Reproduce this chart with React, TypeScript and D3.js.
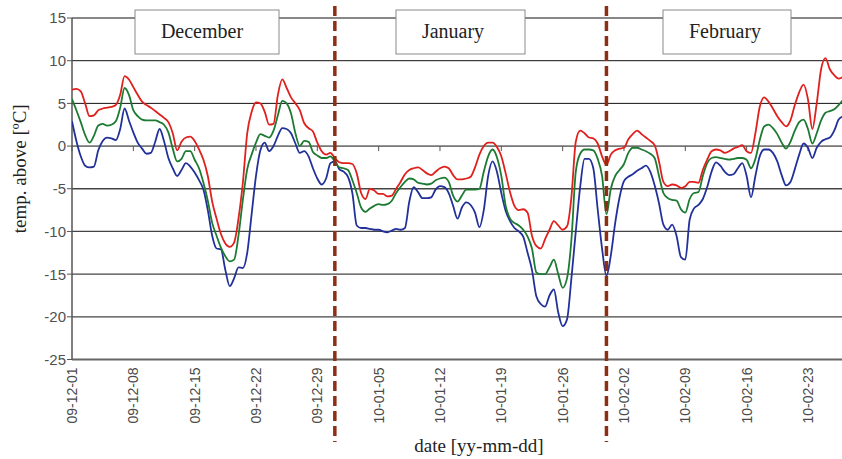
import * as d3 from 'd3';

// half-day samples starting 2009-12-01 00:00
const startDate = new Date(2009, 11, 1);
const stepHours = 12;

const maxTemp = [
  6.6, 6.7, 6.4, 5.0, 3.5, 3.6, 4.2, 4.4, 4.5, 4.6,
  4.8, 6.0, 8.2, 7.8, 6.9, 6.0, 5.2, 4.8, 4.5, 4.1,
  3.7, 3.3, 2.8, 1.5, -0.5, 0.5, 1.0, 1.1, 0.6, -0.4,
  -1.6, -3.5, -6.5, -8.5, -10.3, -11.4, -11.8, -11.3, -8.5, -4.3,
  1.5, 4.0, 5.1, 5.0, 4.0, 2.5, 2.6, 6.0, 7.8, 6.8,
  5.7, 5.0, 4.2, 2.7, 2.1, 1.7, 0.4, -0.6, -1.0, -0.8,
  -1.4, -1.9, -2.0, -2.0, -2.1, -3.2, -5.5, -6.2, -5.0, -5.2,
  -5.6, -5.6, -5.9, -5.8, -5.0, -4.2, -3.3, -2.8, -2.6, -2.5,
  -2.8, -3.2, -3.4, -3.0, -2.6, -2.4, -2.6, -3.4, -3.9, -3.9,
  -3.8, -3.6, -2.5, -1.0, 0.0, 0.4, 0.4, -0.1, -1.2, -3.2,
  -5.4, -7.0, -7.5, -7.4, -7.8, -10.5, -11.7, -12.0, -10.9, -9.8,
  -8.8, -9.3, -9.8, -9.4, -6.0, 0.5, 1.8, 1.5, 1.0, 0.9,
  0.3, -1.2, -2.2, -1.0, -0.5, -0.3, -0.2, 0.8, 1.4, 1.8,
  1.4, 1.0, 0.6, 0.1, -1.8, -4.2, -4.7, -4.5, -4.6, -4.9,
  -4.7, -4.2, -4.2, -4.3, -2.8, -1.6, -0.6, -0.4, -0.5, -0.8,
  -0.6, -0.3, -0.1, 0.1, -0.6, -0.8, 1.5, 4.6, 5.7, 5.2,
  4.4, 3.5, 2.8, 2.3, 3.0, 4.8, 6.3, 7.2, 5.5, 2.0,
  5.0, 9.0, 10.3, 9.0, 8.3, 7.9, 8.1,
];

const meanTemp = [
  5.5, 4.2, 2.8, 1.3, 0.4, 1.2, 2.4, 2.6, 2.4, 2.5,
  2.9, 4.5, 6.8, 6.0, 4.2, 3.5, 3.1, 3.0, 3.0, 3.0,
  2.8, 2.5, 1.6, -0.3, -1.8, -1.5, -0.6, -0.6, -1.6, -2.6,
  -4.3, -6.4, -9.0, -10.5, -11.9, -12.9, -13.5, -13.3, -10.5, -6.3,
  -2.7, -1.0, 0.4, 1.4, 1.2, 1.0, 1.8, 3.6, 5.3, 5.0,
  3.8, 1.5, 0.0, 0.6, 0.5, -0.7, -1.1, -1.4, -1.4, -1.2,
  -1.8, -2.5, -2.6, -2.8, -4.0, -5.5, -7.2, -7.7, -7.3, -7.0,
  -6.8, -6.9, -6.8, -6.4, -5.5, -4.8, -4.2, -3.8, -3.9, -4.3,
  -4.4, -4.5, -4.4, -4.0, -3.8, -3.7, -4.2, -5.8, -6.5, -5.8,
  -5.1, -5.1, -5.1, -5.0, -3.0, -1.2, -0.4, -1.3, -3.5, -7.0,
  -8.5, -9.0, -9.3, -9.8, -10.6, -12.0, -14.8, -15.0, -15.0, -14.2,
  -13.3, -15.0, -16.6, -15.5, -11.0, -3.0, -0.9, -0.4, -0.4, -0.5,
  -1.5, -3.5, -8.0, -5.0, -3.5, -2.8, -2.1, -0.8, -0.2, -0.2,
  -0.4, -0.6, -0.9, -1.4, -3.5, -5.5, -6.1, -6.3, -6.4, -7.4,
  -7.8, -6.2, -5.5, -5.4, -3.5, -2.0, -1.4, -1.3, -1.4, -1.5,
  -1.6, -1.5, -1.4, -1.4, -1.6, -2.6, -1.5, 0.7, 2.3, 2.5,
  2.1, 1.4, 0.4, -0.3, 0.5, 1.8, 2.8, 3.1, 2.0, 0.3,
  1.5, 3.0, 3.9, 4.1, 4.3, 4.8, 5.4,
];

const minTemp = [
  2.9, 0.6, -1.2, -2.3, -2.5, -2.4, -0.5, 0.6, 1.0, 0.9,
  0.7, 2.0, 4.4, 3.0, 1.6, 0.4, -0.3, -0.9, -0.8, 0.5,
  2.0, 0.6, -1.4, -2.6, -3.5, -2.8, -2.0, -2.4, -3.1, -4.0,
  -5.1, -7.5, -10.5, -12.0, -12.1, -14.5, -16.4, -15.5, -14.2, -14.3,
  -12.5, -8.0, -3.5, -0.5, 0.4, -0.6, 0.0, 1.2, 2.1, 2.0,
  1.5, 0.3, -0.8, -0.6, -1.2, -2.6, -3.8, -4.5, -3.8, -2.0,
  -1.8, -2.7, -3.0, -3.6, -5.5, -9.3, -9.6, -9.6, -9.7, -9.8,
  -9.8, -10.0, -10.1, -9.9, -9.7, -9.8, -9.6, -6.5, -4.8, -5.4,
  -6.1, -6.1, -6.0, -5.1, -4.7, -4.8, -5.5, -7.0, -8.5, -7.2,
  -6.6, -6.9, -7.8, -9.5, -7.5, -3.5, -1.8, -3.0, -5.5, -7.6,
  -8.8, -9.6, -10.0, -10.6, -12.5, -14.5, -17.6, -18.5, -18.8, -17.5,
  -16.8, -19.5, -21.1, -20.3, -15.5, -10.0, -4.8, -1.5, -1.5, -2.6,
  -7.4, -12.0, -15.2, -12.8, -9.0, -6.0, -4.1, -3.6, -3.3, -2.9,
  -2.6, -2.3, -3.0, -4.6, -6.7, -9.2, -9.8, -9.2, -10.5, -13.0,
  -13.3, -8.6, -7.3, -6.9, -6.2, -4.8, -3.0, -1.9, -2.3, -3.0,
  -3.4, -3.3, -2.6, -2.0, -3.5, -6.0, -3.5, -1.2, -0.4, -0.4,
  -0.8, -1.8, -3.4, -4.6, -4.2, -2.7, -1.0, 0.3, -0.2, -1.4,
  -0.2, 0.5, 0.8, 1.0, 1.8, 3.1, 3.5,
];

const xTickLabels = [
  '09-12-01', '09-12-08', '09-12-15', '09-12-22', '09-12-29', '10-01-05', '10-01-12',
  '10-01-19', '10-01-26', '10-02-02', '10-02-09', '10-02-16', '10-02-23',
];
const yTicks = [15, 10, 5, 0, -5, -10, -15, -20, -25];
const monthBreaks = ['09-12-31', '10-01-31'];
const months = ['December', 'January', 'February'];

const width = 842;
const height = 459;
const plot = { left: 72, right: 843, top: 18, bottom: 359.5 };

// month label boxes (annotation layout)
const boxes = [
  { x: 135, w: 144, tx: 202 },
  { x: 396, w: 129, tx: 453 },
  { x: 663, w: 128, tx: 725 },
];

const parse = d3.timeParse('%y-%m-%d');

const App = () => {
  const toDate = (i: number) => d3.timeHour.offset(startDate, i * stepHours);

  const xScale = d3
    .scaleTime()
    .domain([startDate, d3.timeDay.offset(startDate, 88)])
    .range([plot.left, plot.right]);
  const yScale = d3.scaleLinear().domain([-25, 15]).range([plot.bottom, plot.top]);

  const line = d3
    .line<number>()
    .x((_, i) => xScale(toDate(i)))
    .y(d => yScale(d))
    .curve(d3.curveMonotoneX);

  const series = [
    { values: minTemp, color: '#22319a' },
    { values: meanTemp, color: '#1d7a32' },
    { values: maxTemp, color: '#e0201c' },
  ];

  const sans = 'Liberation Sans, Arial, sans-serif';
  const serif = 'Liberation Serif, Times New Roman, serif';

  return (
    <svg
      width={width}
      height={height}
      viewBox={`0 0 ${width} ${height}`}
      style={{ position: 'absolute', left: 0, top: 0, background: '#fff' }}
    >
      <defs>
        <clipPath id="plot-clip">
          <rect x={plot.left} y={0} width={width - plot.left} height={plot.bottom + 2} />
        </clipPath>
      </defs>

      {/* gridlines */}
      {yTicks.filter(t => t > -25).map(t => (
        <line
          key={t}
          x1={plot.left}
          x2={width}
          y1={yScale(t)}
          y2={yScale(t)}
          stroke={t >= 0 ? '#111' : '#444'}
          strokeWidth={t >= 0 ? 1 : 1.3}
        />
      ))}
      <line x1={plot.left} x2={width} y1={plot.bottom} y2={plot.bottom} stroke="#666" strokeWidth={2} />
      <line x1={plot.left} x2={plot.left} y1={plot.top} y2={plot.bottom} stroke="#555" strokeWidth={1.5} />

      {/* y ticks */}
      {yTicks.map(t => (
        <g key={t}>
          <line x1={plot.left - 5} x2={plot.left} y1={yScale(t)} y2={yScale(t)} stroke="#555" />
          <text
            x={plot.left - 6}
            y={yScale(t)}
            dy="0.36em"
            textAnchor="end"
            fontFamily={sans}
            fontSize={15}
            fill="#505050"
          >
            {t}
          </text>
        </g>
      ))}

      {/* x ticks on the zero line and rotated labels */}
      {xTickLabels.map(label => {
        const x = xScale(parse(label) as Date);
        return (
          <g key={label}>
            <line x1={x} x2={x} y1={yScale(0)} y2={yScale(0) + 5} stroke="#555" />
            <text
              transform={`translate(${x},${plot.bottom + 8}) rotate(-90)`}
              dy="0.36em"
              textAnchor="end"
              fontFamily={sans}
              fontSize={14}
              fill="#4a4a4a"
            >
              {label}
            </text>
          </g>
        );
      })}

      {/* series */}
      <g clipPath="url(#plot-clip)">
        {series.map(s => (
          <path
            key={s.color}
            d={line(s.values) || ''}
            fill="none"
            stroke={s.color}
            strokeWidth={1.8}
            strokeLinejoin="round"
          />
        ))}
      </g>

      {/* month separators */}
      {monthBreaks.map(m => {
        const x = xScale(parse(m) as Date);
        return (
          <line
            key={m}
            x1={x}
            x2={x}
            y1={6}
            y2={442}
            stroke="#8c2f14"
            strokeWidth={3.5}
            strokeDasharray="10 5"
          />
        );
      })}

      {/* month boxes */}
      {months.map((m, i) => (
        <g key={m}>
          <rect
            x={boxes[i].x}
            y={10}
            width={boxes[i].w}
            height={44}
            fill="#fff"
            stroke="#8a8a8a"
            strokeWidth={1}
          />
          <text
            x={boxes[i].tx}
            y={38}
            textAnchor="middle"
            fontFamily={serif}
            fontSize={20}
            fill="#222"
          >
            {m}
          </text>
        </g>
      ))}

      {/* axis titles */}
      <text
        transform={`translate(26,${(plot.top + plot.bottom) / 2 - 20}) rotate(-90)`}
        textAnchor="middle"
        fontFamily={serif}
        fontSize={19}
        fill="#222"
      >
        temp. above [ºC]
      </text>
      <text x={479} y={452} textAnchor="middle" fontFamily={serif} fontSize={19} fill="#222">
        date [yy-mm-dd]
      </text>
    </svg>
  );
};

export default App;
